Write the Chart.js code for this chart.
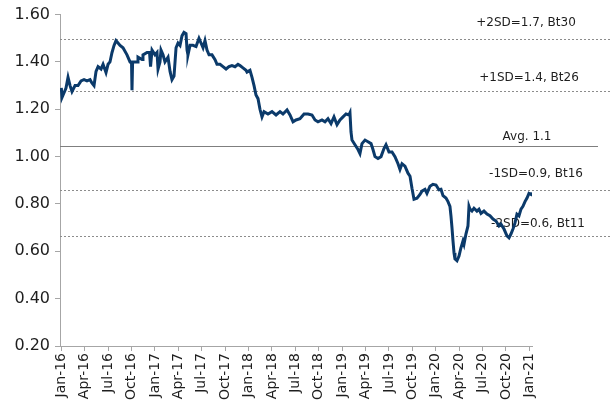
<!DOCTYPE html>
<html>
<head>
    <title>Valuation band</title>
    <script src="https://cdn.jsdelivr.net/npm/chart.js"></script>
    <style>
        html, body { margin: 0; padding: 0; background: #fff; }
        #wrap { width: 616px; height: 403px; position: relative; }
    </style>
</head>
<body>
<div id="wrap"><canvas id="chart"></canvas></div>
<script>
// months since Jan-16 (0 = Jan-16, 60 = Jan-21)
const months = [
    0, 0.09, 0.35, 0.6, 0.86, 1.12, 1.37, 1.76, 2.14, 2.53, 2.91, 3.29, 3.68, 3.94, 4.19, 4.45, 4.71,
    5.09, 5.35, 5.73, 5.99, 6.24, 6.5, 6.76, 7.01, 7.27, 7.53, 7.91, 8.42, 8.81, 9.0, 9.06, 9.14,
    9.71, 9.83, 10.35, 10.47, 10.99, 11.31, 11.44, 11.63, 12.01, 12.27, 12.4, 12.65, 12.78, 13.04,
    13.29, 13.68, 13.94, 14.19, 14.45, 14.71, 14.96, 15.22, 15.47, 15.73, 15.99, 16.12, 16.24, 16.5,
    16.88, 17.27, 17.65, 17.91, 18.17, 18.42, 18.68, 18.94, 19.32, 19.71, 19.96, 20.35, 20.73, 21.12,
    21.5, 21.88, 22.27, 22.65, 22.91, 23.29, 23.68, 23.81, 24.19, 24.45, 24.71, 24.96, 25.22, 25.47,
    25.73, 25.99, 26.5, 27.01, 27.53, 28.04, 28.42, 28.94, 29.32, 29.71, 30.09, 30.6, 31.12, 31.63,
    32.14, 32.53, 32.91, 33.42, 33.81, 34.19, 34.58, 34.96, 35.35, 35.73, 36.12, 36.5, 36.88, 37.01,
    37.14, 37.27, 37.65, 38.04, 38.29, 38.55, 38.94, 39.32, 39.71, 39.96, 40.22, 40.6, 40.99, 41.37,
    41.63, 42.01, 42.4, 42.78, 43.17, 43.42, 43.68, 44.06, 44.45, 44.71, 44.96, 45.22, 45.6, 45.99,
    46.24, 46.63, 46.88, 47.27, 47.65, 48.04, 48.42, 48.68, 48.94, 49.32, 49.58, 49.83, 49.96, 50.09,
    50.22, 50.35, 50.47, 50.73, 50.99, 51.24, 51.5, 51.63, 51.88, 52.14, 52.27, 52.4, 52.65, 52.91,
    53.29, 53.55, 53.81, 54.19, 54.58, 54.96, 55.35, 55.73, 56.12, 56.37, 56.76, 57.14, 57.4, 57.65,
    57.91, 58.17, 58.42, 58.68, 58.94, 59.19, 59.45, 59.71, 59.96, 60.22, 60.35
];
const pbv = [
    1.29, 1.25, 1.27, 1.29, 1.335, 1.30, 1.275, 1.30, 1.30, 1.32, 1.325, 1.32, 1.325, 1.31, 1.30, 1.36, 1.38,
    1.37, 1.39, 1.355, 1.39, 1.40, 1.44, 1.47, 1.49, 1.48, 1.47, 1.46, 1.43, 1.40, 1.40, 1.28, 1.40,
    1.40, 1.42, 1.41, 1.43, 1.44, 1.44, 1.38, 1.45, 1.43, 1.44, 1.37, 1.40, 1.45, 1.43,
    1.40, 1.42, 1.36, 1.325, 1.34, 1.46, 1.48, 1.47, 1.51, 1.525, 1.52, 1.45, 1.43, 1.47,
    1.47, 1.465, 1.50, 1.48, 1.46, 1.49, 1.45, 1.43, 1.43, 1.41, 1.39, 1.39, 1.38, 1.37,
    1.38, 1.385, 1.38, 1.39, 1.385, 1.375, 1.365, 1.357, 1.365, 1.335, 1.30, 1.26, 1.245, 1.20,
    1.168, 1.19, 1.18, 1.19, 1.176, 1.19, 1.18, 1.197, 1.176, 1.147, 1.155, 1.16, 1.18, 1.18,
    1.176, 1.155, 1.147, 1.155, 1.147, 1.16, 1.14, 1.168, 1.135, 1.155, 1.168, 1.18, 1.176, 1.185,
    1.105, 1.07, 1.05, 1.03, 1.013, 1.055, 1.07, 1.063, 1.055, 1.03, 1.0, 0.992, 1.0, 1.034,
    1.05, 1.02, 1.02, 1.0, 0.97, 0.946, 0.97, 0.96, 0.93, 0.917, 0.866, 0.82, 0.824, 0.84,
    0.854, 0.862, 0.845, 0.875, 0.883, 0.88, 0.86, 0.862, 0.835, 0.825, 0.81, 0.79, 0.75, 0.70,
    0.644, 0.594, 0.568, 0.56, 0.58, 0.615, 0.644, 0.63, 0.673, 0.707, 0.79, 0.778, 0.77, 0.782,
    0.77, 0.778, 0.76, 0.77, 0.757, 0.75, 0.736, 0.728, 0.707, 0.715, 0.694, 0.665, 0.657, 0.673,
    0.694, 0.72, 0.757, 0.75, 0.778, 0.79, 0.81, 0.825, 0.845, 0.84, 0.848
];
const tickLabels = ['Jan-16', 'Apr-16', 'Jul-16', 'Oct-16', 'Jan-17', 'Apr-17', 'Jul-17', 'Oct-17',
    'Jan-18', 'Apr-18', 'Jul-18', 'Oct-18', 'Jan-19', 'Apr-19', 'Jul-19', 'Oct-19', 'Jan-20',
    'Apr-20', 'Jul-20', 'Oct-20', 'Jan-21'];

// SD band lines and their captions
const bandValues = [1.495, 1.277, 1.047, 0.858, 0.665];
const bandLabels = ['+2SD=1.7, Bt30', '+1SD=1.4, Bt26', 'Avg. 1.1', '-1SD=0.9, Bt16', '-2SD=0.6, Bt11'];

const bandPlugin = {
    id: 'bands',
    beforeDatasetsDraw(chart) {
        const ctx = chart.ctx;
        const y = chart.scales.y;
        const left = chart.chartArea.left;
        const textX = [526, 529, 527, 536, 538];
        const textUp = [17, 14, 10, 17, 13];
        ctx.save();
        bandValues.forEach((v, i) => {
            const py = Math.round(y.getPixelForValue(v)) + 0.5;
            const avg = i === 2;
            ctx.strokeStyle = avg ? '#7f7f7f' : '#8c8c8c';
            ctx.lineWidth = 1;
            ctx.setLineDash(avg ? [] : [2, 2]);
            ctx.beginPath();
            ctx.moveTo(left, py);
            ctx.lineTo(avg ? 598 : 610, py);
            ctx.stroke();
            ctx.fillStyle = '#1e1e1e';
            ctx.font = '12px "DejaVu Sans"';
            ctx.textAlign = 'center';
            ctx.textBaseline = 'middle';
            ctx.fillText(bandLabels[i], textX[i], py - textUp[i]);
        });
        ctx.restore();
    }
};

const chart = new Chart(document.getElementById('chart'), {
    type: 'line',
    data: {
        datasets: [{
            data: months.map((m, i) => ({ x: m, y: pbv[i] })),
            borderColor: '#0b3a6a',
            borderWidth: 3,
            pointRadius: 0,
            tension: 0,
            fill: false
        }]
    },
    options: {
        responsive: true,
        maintainAspectRatio: false,
        animation: false,
        layout: { padding: { top: 12, right: 84, bottom: 0, left: 0 } },
        plugins: { legend: { display: false }, tooltip: { enabled: false } },
        scales: {
            x: {
                type: 'linear',
                min: -0.17,
                max: 60.35,
                afterBuildTicks: scale => {
                    scale.ticks = tickLabels.map((t, i) => ({ value: i * 3 }));
                },
                afterFit: scale => { scale.height = 57; },
                ticks: {
                    autoSkip: false,
                    minRotation: 90,
                    maxRotation: 90,
                    padding: 2,
                    color: '#1e1e1e',
                    font: { family: 'DejaVu Sans', size: 14 },
                    callback: (v, i) => tickLabels[i]
                },
                grid: { drawOnChartArea: false, drawTicks: true, tickLength: 5, color: '#a6a6a6' },
                border: { color: '#a6a6a6', width: 1 }
            },
            y: {
                min: 0.2,
                max: 1.6,
                afterFit: scale => { scale.width = 60; },
                ticks: {
                    stepSize: 0.2,
                    padding: 5,
                    color: '#1e1e1e',
                    font: { family: 'DejaVu Sans', size: 16 },
                    callback: v => v.toFixed(2)
                },
                grid: { drawOnChartArea: false, drawTicks: true, tickLength: 5, color: '#a6a6a6' },
                border: { color: '#a6a6a6', width: 1 }
            }
        }
    },
    plugins: [bandPlugin]
});
</script>
</body>
</html>
